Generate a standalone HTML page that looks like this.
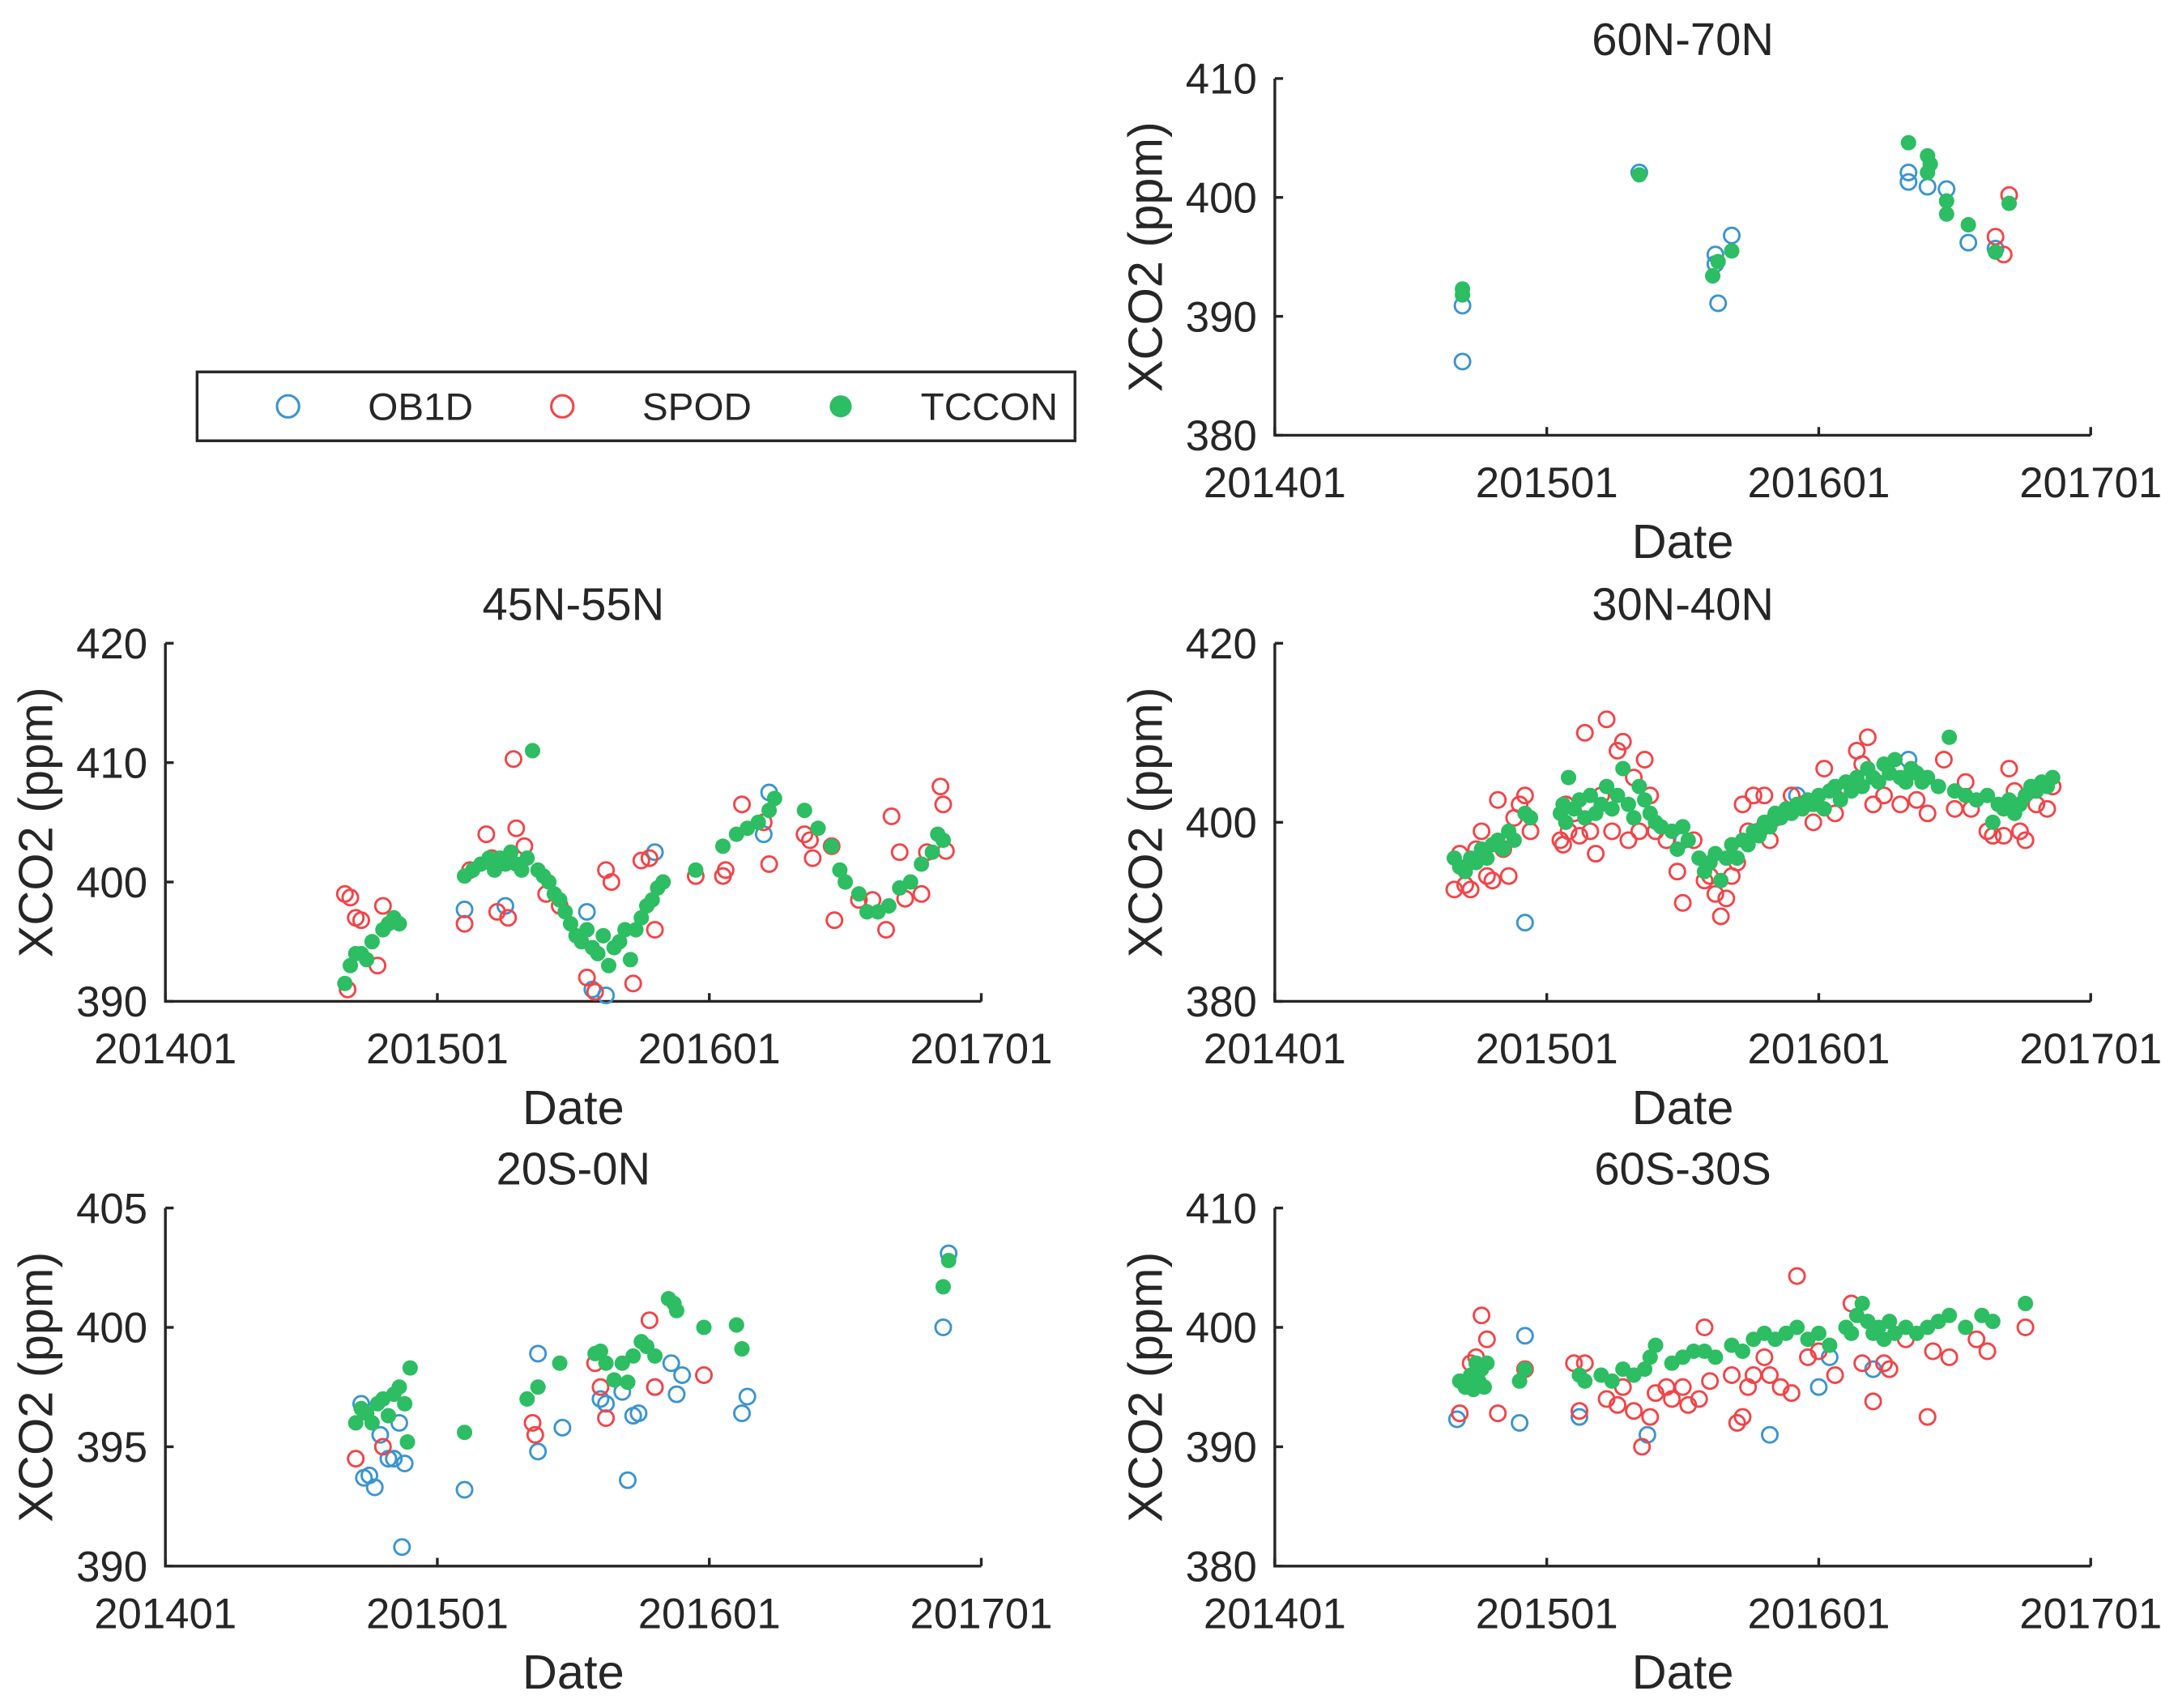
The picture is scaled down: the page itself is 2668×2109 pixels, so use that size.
<!DOCTYPE html>
<html><head><meta charset="utf-8"><style>
html,body{margin:0;padding:0;background:#fff}
svg{display:block}
text{font-family:"Liberation Sans",sans-serif;fill:#262626}
</style></head><body>
<svg id="fig" width="2668" height="2109" viewBox="0 0 1568 1240" preserveAspectRatio="none" xmlns="http://www.w3.org/2000/svg">
<rect width="1568" height="1240" fill="#fff"/>
<g>
<rect x="143" y="270" width="637" height="50" fill="#fff" stroke="#262626" stroke-width="2"/>
<circle cx="209" cy="295" r="8" fill="none" stroke="#3a94d0" stroke-width="1.8"/>
<text x="267" y="305" font-size="28">OB1D</text>
<circle cx="408" cy="295" r="8" fill="none" stroke="#f24448" stroke-width="1.8"/>
<text x="466" y="305" font-size="28">SPOD</text>
<circle cx="610" cy="295" r="8" fill="#2dbd62"/>
<text x="668" y="305" font-size="28">TCCON</text>
</g>
</svg>
<script>
const xTickLabels = ["201401","201501","201601","201701"];
const xTickValues = [2014,2015,2016,2017];

const p1Ob = [[2014.69,390.9],[2014.69,386.2],[2015.34,402.1],[2015.62,395.2],[2015.62,394.4],[2015.63,391.1],[2015.68,396.8],[2016.33,402.1],[2016.33,401.3],[2016.4,400.9],[2016.47,400.7],[2016.55,396.2],[2016.65,395.7]];
const p1Sp = [[2016.65,396.7],[2016.68,395.2],[2016.7,400.2]];
const p1Tc = [[2014.69,392.3],[2014.69,391.8],[2015.34,401.9],[2015.61,393.4],[2015.63,394.6],[2015.68,395.5],[2016.33,404.6],[2016.4,403.5],[2016.41,402.8],[2016.4,402.1],[2016.47,399.7],[2016.47,398.6],[2016.55,397.7],[2016.65,395.4],[2016.7,399.5]];

const p2Ob = [[2015.1,397.7],[2015.25,398],[2015.55,397.5],[2015.57,391],[2015.62,390.5],[2015.8,402.5],[2016.22,407.5],[2016.2,404]];
const p2Sp = [[2014.66,399],[2014.68,398.7],[2014.7,397],[2014.72,396.8],[2014.67,391],[2014.78,393],[2014.8,398],[2015.1,396.5],[2015.12,401],[2015.18,404],[2015.2,402],[2015.28,410.3],[2015.29,404.5],[2015.26,397],[2015.22,397.5],[2015.32,403],[2015.4,399],[2015.45,398],[2015.55,392],[2015.58,390.8],[2015.62,401],[2015.64,400],[2015.72,391.5],[2015.75,401.8],[2015.78,402],[2015.8,396],[2015.95,400.5],[2016.05,400.5],[2016.06,401],[2016.12,406.5],[2016.22,401.5],[2016.2,405],[2016.35,404],[2016.37,403.5],[2016.38,402],[2016.45,403],[2016.46,396.8],[2016.55,398.5],[2016.6,398.5],[2016.65,396],[2016.67,405.5],[2016.7,402.5],[2016.72,398.6],[2016.78,399],[2016.8,402.5],[2016.85,408],[2016.86,406.5],[2016.87,402.6]];
const p2Tc = [[2014.66,391.5],[2014.68,393],[2014.7,394],[2014.72,394],[2014.74,393.5],[2014.76,395],[2014.8,396],[2014.82,396.5],[2014.84,397],[2014.86,396.5],[2015.1,400.5],[2015.13,401],[2015.16,401.5],[2015.19,402],[2015.21,401],[2015.23,402],[2015.25,401.5],[2015.27,402.5],[2015.29,401.5],[2015.31,401],[2015.33,402],[2015.35,411],[2015.37,401],[2015.39,400.5],[2015.41,400],[2015.43,399],[2015.45,398.5],[2015.47,397.5],[2015.49,396.5],[2015.51,395.5],[2015.53,395],[2015.55,396],[2015.57,394.5],[2015.59,394],[2015.61,395.5],[2015.63,393],[2015.65,394.5],[2015.67,395],[2015.69,396],[2015.71,393.5],[2015.73,396],[2015.75,397],[2015.77,398],[2015.79,398.5],[2015.81,399.5],[2015.83,400],[2015.95,401],[2016.05,403],[2016.1,404],[2016.14,404.5],[2016.18,405],[2016.22,406],[2016.24,407],[2016.35,406],[2016.4,404.5],[2016.45,403],[2016.48,401],[2016.5,400],[2016.55,399],[2016.58,397.5],[2016.62,397.5],[2016.66,398],[2016.7,399.5],[2016.74,400],[2016.78,401.5],[2016.82,402.5],[2016.84,404],[2016.86,403.5]];

const p3Ob = [[2014.92,388.8],[2015.5,398],[2016.33,407],[2015.92,403]];
const p3Sp = [[2014.66,392.5],[2014.68,396.5],[2014.7,393],[2014.72,392.5],[2014.74,397],[2014.76,399],[2014.78,394],[2014.8,393.5],[2014.82,402.5],[2014.84,397],[2014.86,394],[2014.88,400.5],[2014.9,402],[2014.92,403],[2014.94,399],[2015.05,398],[2015.06,397.5],[2015.07,402],[2015.08,399],[2015.1,401],[2015.12,398.5],[2015.14,410],[2015.16,399],[2015.18,396.5],[2015.2,403],[2015.22,411.5],[2015.24,399],[2015.26,408],[2015.28,409],[2015.3,398],[2015.32,405],[2015.34,399],[2015.36,407],[2015.38,403],[2015.4,399],[2015.44,398],[2015.48,394.5],[2015.5,391],[2015.54,398],[2015.58,393.5],[2015.6,394],[2015.62,392],[2015.64,389.5],[2015.66,391.5],[2015.68,394],[2015.7,395.5],[2015.72,402],[2015.74,399],[2015.76,403],[2015.78,399],[2015.8,403],[2015.82,398],[2015.84,400.5],[2015.9,403],[2015.94,402],[2015.98,400],[2016.02,406],[2016.06,401],[2016.1,404],[2016.14,408],[2016.16,406.5],[2016.18,409.5],[2016.2,402],[2016.24,403],[2016.3,402],[2016.36,402.5],[2016.4,401],[2016.46,407],[2016.5,401.5],[2016.54,404.5],[2016.56,401.5],[2016.62,399],[2016.64,398.5],[2016.68,398.5],[2016.7,406],[2016.72,403.5],[2016.74,399],[2016.76,398],[2016.8,402],[2016.84,401.5],[2016.86,404]];
const p3Tc = [[2014.66,396],[2014.68,395],[2014.7,394.5],[2014.72,396],[2014.74,395.5],[2014.76,397],[2014.78,396],[2014.8,397.5],[2014.82,398],[2014.84,397],[2014.86,399],[2014.88,398],[2014.92,401],[2014.94,400.5],[2015.05,401],[2015.06,402],[2015.07,400],[2015.08,405],[2015.1,401.5],[2015.12,402.5],[2015.14,400.5],[2015.16,403],[2015.18,401],[2015.2,402],[2015.22,404],[2015.24,401.5],[2015.26,403],[2015.28,406],[2015.3,402],[2015.32,400.5],[2015.34,404],[2015.36,402.5],[2015.38,401],[2015.4,400],[2015.42,399.5],[2015.46,399],[2015.48,397],[2015.5,399.5],[2015.52,398],[2015.56,396],[2015.58,394.5],[2015.6,395.5],[2015.62,396.5],[2015.64,393.5],[2015.66,396],[2015.68,397.5],[2015.7,396],[2015.72,398],[2015.74,397.5],[2015.76,399],[2015.78,398.5],[2015.8,400],[2015.82,399.5],[2015.84,401],[2015.86,400.5],[2015.88,401.5],[2015.9,401],[2015.92,402],[2015.94,401.5],[2015.96,402.5],[2015.98,402],[2016,403],[2016.02,401.5],[2016.04,403.5],[2016.06,404],[2016.08,402.5],[2016.1,404.5],[2016.12,403.5],[2016.14,405],[2016.16,404],[2016.18,406],[2016.2,405],[2016.22,404.5],[2016.24,406.5],[2016.26,405.5],[2016.28,407],[2016.3,405],[2016.32,404.5],[2016.34,406],[2016.36,405.5],[2016.38,404.5],[2016.4,405],[2016.44,404],[2016.48,409.5],[2016.5,403.5],[2016.54,403],[2016.58,402.5],[2016.62,403],[2016.64,400],[2016.66,402],[2016.68,401.5],[2016.7,402.5],[2016.72,401],[2016.74,402],[2016.76,403],[2016.78,404],[2016.8,403.5],[2016.82,404.5],[2016.84,404],[2016.86,405]];

const p4Ob = [[2014.72,396.8],[2014.73,393.7],[2014.75,393.8],[2014.77,393.3],[2014.79,395.5],[2014.82,394.5],[2014.84,394.5],[2014.86,396],[2014.88,394.3],[2014.87,390.8],[2015.1,393.2],[2015.37,398.9],[2015.37,394.8],[2015.46,395.8],[2015.6,397],[2015.62,396.8],[2015.7,393.6],[2015.72,396.3],[2015.68,397.3],[2015.74,396.4],[2015.8,397.5],[2015.86,398.5],[2015.88,397.2],[2015.9,398],[2016.12,396.4],[2016.14,397.1],[2016.86,400],[2016.88,403.1]];
const p4Sp = [[2014.7,394.5],[2014.8,395],[2015.35,396],[2015.36,395.5],[2015.58,398.5],[2015.6,397.5],[2015.62,396.2],[2015.78,400.3],[2015.8,397.5],[2015.98,398]];
const p4Tc = [[2014.7,396],[2014.72,396.6],[2014.74,396.4],[2014.76,396],[2014.78,396.8],[2014.8,397],[2014.82,396.3],[2014.84,397.2],[2014.86,397.5],[2014.88,396.8],[2014.89,395.2],[2014.9,398.3],[2015.1,395.6],[2015.33,397],[2015.37,397.5],[2015.45,398.5],[2015.58,398.9],[2015.6,399],[2015.62,398.5],[2015.65,397.8],[2015.68,398.5],[2015.7,397.7],[2015.72,398.8],[2015.75,399.4],[2015.77,399.2],[2015.8,398.8],[2015.85,401.2],[2015.87,401],[2015.88,400.7],[2015.98,400],[2016.1,400.1],[2016.12,399.1],[2016.86,401.7],[2016.88,402.8]];

const p5Ob = [[2014.67,392.3],[2014.9,392],[2014.92,399.3],[2015.12,392.5],[2015.37,391],[2015.82,391],[2016,395],[2016.04,397.5],[2016.2,396.5]];
const p5Sp = [[2014.68,392.8],[2014.72,397],[2014.74,397.5],[2014.76,401],[2014.78,399],[2014.82,392.8],[2014.92,396.5],[2015.1,397],[2015.12,393],[2015.14,397],[2015.22,394],[2015.26,393.5],[2015.28,395],[2015.32,393],[2015.35,390],[2015.38,392.5],[2015.4,394.5],[2015.44,395],[2015.46,394],[2015.5,395],[2015.52,393.5],[2015.56,394],[2015.58,400],[2015.6,395.5],[2015.68,396],[2015.7,392],[2015.72,392.5],[2015.74,395],[2015.76,396],[2015.8,397.5],[2015.82,396],[2015.86,395],[2015.9,394.5],[2015.92,404.3],[2015.96,397.5],[2016,398],[2016.06,396],[2016.12,402],[2016.16,397],[2016.2,393.8],[2016.24,397],[2016.26,396.5],[2016.32,399],[2016.4,392.5],[2016.42,398],[2016.48,397.5],[2016.58,399],[2016.62,398],[2016.76,400]];
const p5Tc = [[2014.68,395.5],[2014.7,395],[2014.72,396],[2014.73,394.8],[2014.74,397],[2014.75,395.5],[2014.76,396.5],[2014.77,395],[2014.78,397],[2014.9,395.5],[2014.92,396.5],[2015.12,396],[2015.14,395.5],[2015.2,396],[2015.24,395.5],[2015.28,396.5],[2015.32,396],[2015.36,396.5],[2015.38,397.5],[2015.4,398.5],[2015.46,397],[2015.5,397.5],[2015.54,398],[2015.58,398],[2015.62,397.5],[2015.68,398.5],[2015.72,398],[2015.76,399],[2015.8,399.5],[2015.84,399],[2015.88,399.5],[2015.92,400],[2015.96,399],[2016,399.5],[2016.04,398.5],[2016.1,400],[2016.12,399.5],[2016.14,401],[2016.16,402],[2016.18,400.5],[2016.2,399.5],[2016.22,400],[2016.24,399],[2016.26,400.5],[2016.28,399.5],[2016.32,400],[2016.36,399.5],[2016.4,400],[2016.44,400.5],[2016.48,401],[2016.54,400],[2016.6,401],[2016.64,400.5],[2016.76,402]];

const p1YTicks=[380,390,400,410], p2YTicks=[390,400,410,420], p3YTicks=[380,400,420], p4YTicks=[390,395,400,405], p5YTicks=[380,390,400,410];

const panels = [
 {name:'60n-70n',title:'60N-70N',x0:925,x1:1517,y0:57,y1:316,ticks:p1YTicks,ob:p1Ob,sp:p1Sp,tc:p1Tc},
 {name:'45n-55n',title:'45N-55N',x0:120,x1:712,y0:467,y1:727,ticks:p2YTicks,ob:p2Ob,sp:p2Sp,tc:p2Tc},
 {name:'30n-40n',title:'30N-40N',x0:925,x1:1517,y0:467,y1:727,ticks:p3YTicks,ob:p3Ob,sp:p3Sp,tc:p3Tc},
 {name:'20s-0n',title:'20S-0N',x0:120,x1:712,y0:877,y1:1137,ticks:p4YTicks,ob:p4Ob,sp:p4Sp,tc:p4Tc},
 {name:'60s-30s',title:'60S-30S',x0:925,x1:1517,y0:877,y1:1137,ticks:p5YTicks,ob:p5Ob,sp:p5Sp,tc:p5Tc}
];
const NS='http://www.w3.org/2000/svg';
const svg=document.getElementById('fig');
function mk(tag,attrs,parent){const e=document.createElementNS(NS,tag);for(const k in attrs)e.setAttribute(k,attrs[k]);parent.appendChild(e);return e;}
panels.forEach(p=>{
 const g=mk('g',{},svg);
 
 
 const ymin=p.ticks[0], ymax=p.ticks[p.ticks.length-1];
 const sx=t=>p.x0+(t-2014)/3*(p.x1-p.x0);
 const sy=v=>p.y1-(v-ymin)/(ymax-ymin)*(p.y1-p.y0);
 const ax=mk('path',{d:`M${p.x0},${p.y0}V${p.y1}H${p.x1}`,fill:'none',stroke:'#262626','stroke-width':2},g);
 
 
 xTickValues.forEach((t,i)=>{
  const x=sx(t);
  mk('line',{x1:x,x2:x,y1:p.y1,y2:p.y1-6,stroke:'#262626','stroke-width':2},g);
  const tl=mk('text',{x:x,y:p.y1+45,'font-size':31,'text-anchor':'middle'},g);
  tl.textContent=xTickLabels[i];
  
  
 });
 p.ticks.forEach(v=>{
  const y=sy(v);
  mk('line',{x1:p.x0,x2:p.x0+6,y1:y,y2:y,stroke:'#262626','stroke-width':2},g);
  const tl=mk('text',{x:p.x0-13,y:y+11,'font-size':31,'text-anchor':'end'},g);
  tl.textContent=v;
  
  
 });
 const tt=mk('text',{x:(p.x0+p.x1)/2,y:p.y0-17,'font-size':33,'text-anchor':'middle'},g);
 tt.textContent=p.title;
 
 
 const xt=mk('text',{x:(p.x0+p.x1)/2,y:p.y1+89,'font-size':35,'text-anchor':'middle'},g);
 xt.textContent='Date';
 
 
 const cy=(p.y0+p.y1)/2, cx=p.x0-82;
 const yt=mk('text',{x:cx,y:cy,'font-size':35,'text-anchor':'middle',transform:`rotate(-90 ${cx} ${cy})`},g);
 yt.textContent='XCO2 (ppm)';
 
 
 p.ob.forEach(d=>{
  const c=mk('circle',{cx:sx(d[0]),cy:sy(d[1]),r:5.6,fill:'none',stroke:'#3a94d0','stroke-width':1.7},g);
  
  
 });
 p.sp.forEach(d=>{
  const c=mk('circle',{cx:sx(d[0]),cy:sy(d[1]),r:5.6,fill:'none',stroke:'#f24448','stroke-width':1.7},g);
  
  
 });
 p.tc.forEach(d=>{
  const c=mk('circle',{cx:sx(d[0]),cy:sy(d[1]),r:5.6,fill:'#2dbd62'},g);
  
  
 });
});
</script>
</body></html>
